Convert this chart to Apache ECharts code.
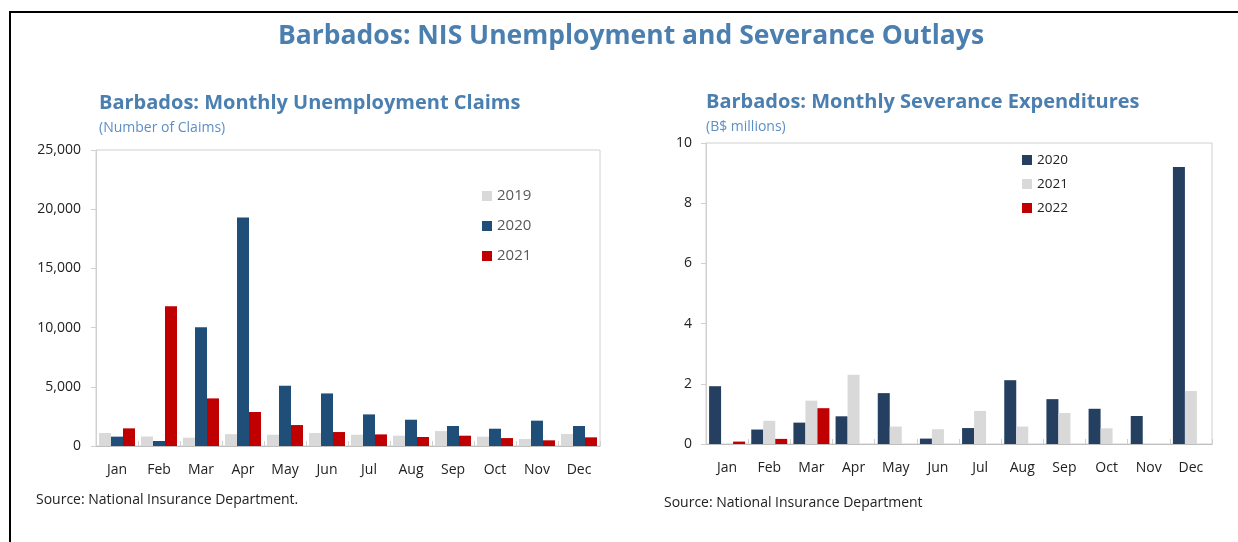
<!DOCTYPE html>
<html>
<head>
<meta charset="utf-8">
<script src="https://cdn.jsdelivr.net/npm/echarts@6/dist/echarts.min.js"></script>
<style>
  html, body { margin: 0; padding: 0; background: #fff; }
  #chart { width: 1238px; height: 542px; position: relative; }
  #frame { position: absolute; left: 9px; top: 11px; width: 1240px; height: 540px;
    border-top: 2px solid #000; border-left: 2px solid #000; pointer-events: none; }
</style>
</head>
<body>
<div id="chart"></div>
<div id="frame"></div>
<script>
const months = ['Jan', 'Feb', 'Mar', 'Apr', 'May', 'Jun', 'Jul', 'Aug', 'Sep', 'Oct', 'Nov', 'Dec'];

// unemployment claims (number)
const claims2019 = [1100, 800, 700, 1000, 950, 1100, 950, 870, 1260, 790, 590, 1010];
const claims2020 = [790, 420, 10030, 19300, 5090, 4440, 2670, 2220, 1690, 1460, 2140, 1690];
const claims2021 = [1490, 11800, 4020, 2870, 1770, 1180, 980, 760, 870, 670, 480, 730];

// severance expenditures (B$ millions)
const sev2020 = [1.92, 0.48, 0.71, 0.92, 1.69, 0.18, 0.53, 2.12, 1.49, 1.17, 0.93, 9.2];
const sev2021 = [0, 0.77, 1.44, 2.3, 0.58, 0.49, 1.1, 0.58, 1.03, 0.52, 0, 1.76];
const sev2022 = [0.08, 0.17, 1.19, 0, 0, 0, 0, 0, 0, 0, 0, 0];

const FONT = '"Open Sans", "Noto Sans", sans-serif';
const TITLE_BLUE = '#4a7fb0';
const GREY = '#d9d9d9';
const RED = '#c00000';

const chart = echarts.init(document.getElementById('chart'), null, { renderer: 'canvas' });

const xAxisBase = (gridIndex) => ({
  type: 'category',
  gridIndex,
  data: months,
  axisLine: { lineStyle: { color: '#bfbfbf' } },
  axisTick: { show: true, inside: true, length: 5, lineStyle: { color: '#d0d0d0' } },
  axisLabel: { color: '#222', fontSize: 14, fontFamily: FONT, margin: 17 },
});

const yAxisBase = (gridIndex, margin) => ({
  type: 'value',
  gridIndex,
  min: 0,
  axisLine: { show: true, lineStyle: { color: '#d0d0d0' } },
  axisTick: { show: true, length: 5, lineStyle: { color: '#d0d0d0' } },
  splitLine: { show: false },
  axisLabel: { color: '#222', fontSize: 14, fontFamily: FONT, margin },
});

const bar = (name, data, color, xi, yi) => ({
  name,
  type: 'bar',
  xAxisIndex: xi,
  yAxisIndex: yi,
  data,
  barWidth: 12,
  barGap: '0%',
  itemStyle: { color },
  silent: true,
});

const option = {
  animation: false,
  backgroundColor: '#fff',
  textStyle: { fontFamily: FONT },
  title: [
    {
      text: 'Barbados: NIS Unemployment and Severance Outlays',
      left: 631, top: 23, textAlign: 'center', padding: 0,
      textStyle: { color: TITLE_BLUE, fontSize: 26.5, fontWeight: 'bold', fontFamily: FONT },
    },
    {
      text: 'Barbados: Monthly Unemployment Claims',
      subtext: '(Number of Claims)',
      left: 99, top: 93, itemGap: 8, padding: 0,
      textStyle: { color: TITLE_BLUE, fontSize: 20, fontWeight: 'bold', fontFamily: FONT },
      subtextStyle: { color: '#5b8fc7', fontSize: 14, fontFamily: FONT },
    },
    {
      text: 'Barbados: Monthly Severance Expenditures',
      subtext: '(B$ millions)',
      left: 706, top: 92, itemGap: 8, padding: 0,
      textStyle: { color: TITLE_BLUE, fontSize: 20, fontWeight: 'bold', fontFamily: FONT },
      subtextStyle: { color: '#5b8fc7', fontSize: 14, fontFamily: FONT },
    },
    {
      text: 'Source: National Insurance Department.',
      left: 36, top: 493, padding: 0,
      textStyle: { color: '#222', fontSize: 14, fontWeight: 'normal', fontFamily: FONT },
    },
    {
      text: 'Source: National Insurance Department',
      left: 664, top: 496, padding: 0,
      textStyle: { color: '#222', fontSize: 14, fontWeight: 'normal', fontFamily: FONT },
    },
  ],
  legend: [
    {
      orient: 'vertical',
      left: 482, top: 188, padding: 0,
      itemWidth: 10, itemHeight: 10, itemGap: 14,
      icon: 'rect',
      data: ['c2019', 'c2020', 'c2021'],
      formatter: (n) => n.slice(1),
      textStyle: { color: '#595959', fontSize: 15, fontFamily: FONT, lineHeight: 16 },
    },
    {
      orient: 'vertical',
      left: 1022, top: 152, padding: 0,
      itemWidth: 10, itemHeight: 10, itemGap: 8,
      icon: 'rect',
      data: ['s2020', 's2021', 's2022'],
      formatter: (n) => n.slice(1),
      textStyle: { color: '#222', fontSize: 13.5, fontFamily: FONT, lineHeight: 16 },
    },
  ],
  grid: [
    { left: 96, right: 638, top: 150, bottom: 96, show: true, borderColor: '#d0d0d0', borderWidth: 1 },
    { left: 706, right: 26, top: 143, bottom: 98, show: true, borderColor: '#d0d0d0', borderWidth: 1 },
  ],
  xAxis: [xAxisBase(0), xAxisBase(1)],
  yAxis: [
    Object.assign(yAxisBase(0, 15), {
      max: 25000, interval: 5000,
      axisLabel: Object.assign(yAxisBase(0, 15).axisLabel, {
        formatter: (v) => v.toLocaleString('en-US'),
      }),
    }),
    Object.assign(yAxisBase(1, 14), { max: 10, interval: 2 }),
  ],
  series: [
    bar('c2019', claims2019, GREY, 0, 0),
    bar('c2020', claims2020, '#1f4e79', 0, 0),
    bar('c2021', claims2021, RED, 0, 0),
    bar('s2020', sev2020, '#243f60', 1, 1),
    bar('s2021', sev2021, GREY, 1, 1),
    bar('s2022', sev2022, RED, 1, 1),
  ],
};

chart.setOption(option);
</script>
</body>
</html>
